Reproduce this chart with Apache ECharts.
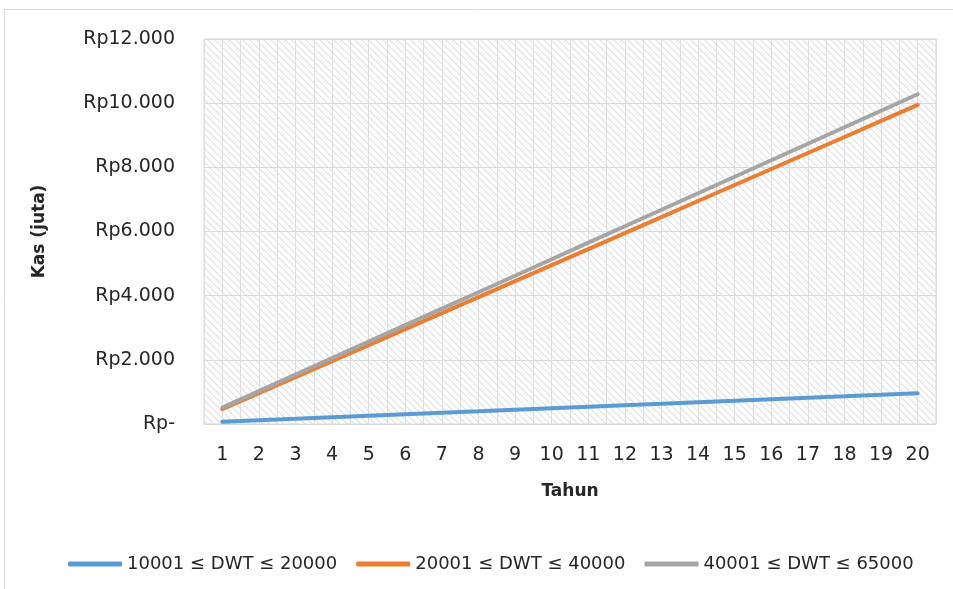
<!DOCTYPE html>
<html>
<head>
<meta charset="utf-8">
<title>Kas (juta) per Tahun</title>
<script src="https://cdn.jsdelivr.net/npm/echarts@6/dist/echarts.min.js"></script>
<style>
  html, body { margin: 0; padding: 0; background: #ffffff; }
  #chart { width: 953px; height: 589px; }
</style>
</head>
<body>
<div id="chart"></div>
<script>
// Years on the category axis
const years = ['1','2','3','4','5','6','7','8','9','10','11','12','13','14','15','16','17','18','19','20'];

// Cumulative cash (juta Rupiah) per ship size class
const seriesNames = ['10001 ≤ DWT ≤ 20000', '20001 ≤ DWT ≤ 40000', '40001 ≤ DWT ≤ 65000'];
const kasKecil  = [72, 119, 165, 212, 258, 305, 352, 398, 445, 491, 538, 585, 631, 678, 724, 771, 818, 864, 911, 957];
const kasSedang = [460, 959, 1458, 1958, 2457, 2956, 3455, 3954, 4454, 4953, 5452, 5951, 6450, 6950, 7449, 7948, 8447, 8946, 9446, 9945];
const kasBesar  = [510, 1024, 1538, 2052, 2566, 3080, 3594, 4108, 4622, 5136, 5651, 6165, 6679, 7193, 7707, 8221, 8735, 9249, 9763, 10277];

// Value-axis tick labels, one per 2.000 step
const yTickLabels = ['Rp-', 'Rp2.000', 'Rp4.000', 'Rp6.000', 'Rp8.000', 'Rp10.000', 'Rp12.000'];

const colors = ['#5B9BD5', '#ED7D31', '#A5A5A5'];
const font = 'DejaVu Sans, Noto Sans, sans-serif';

// Diagonal hatch tile for the plot background
function hatchTile() {
  const size = 7;
  const c = document.createElement('canvas');
  c.width = size; c.height = size;
  const ctx = c.getContext('2d');
  ctx.fillStyle = '#ffffff';
  ctx.fillRect(0, 0, size, size);
  ctx.strokeStyle = '#e0e0e0';
  ctx.lineWidth = 1.2;
  ctx.beginPath();
  ctx.moveTo(-1, -1); ctx.lineTo(size + 1, size + 1);
  ctx.moveTo(-1, size - 1); ctx.lineTo(1, size + 1);
  ctx.moveTo(size - 1, -1); ctx.lineTo(size + 1, 1);
  ctx.stroke();
  return c;
}

const chart = echarts.init(document.getElementById('chart'), null, { renderer: 'canvas' });

chart.setOption({
  animation: false,
  backgroundColor: '#ffffff',
  color: colors,
  graphic: [{
    type: 'rect',
    shape: { x: 4.5, y: 9.5, width: 1000, height: 700 },
    style: { fill: 'none', stroke: '#d9d9d9', lineWidth: 1 },
    silent: true,
    z: -10
  }],
  grid: {
    left: 204, right: 17, top: 39, bottom: 165,
    show: true,
    backgroundColor: { image: hatchTile(), repeat: 'repeat' },
    borderColor: '#d9d9d9',
    borderWidth: 1
  },
  legend: {
    bottom: 11,
    left: 63,
    icon: 'roundRect',
    itemWidth: 54,
    itemHeight: 5,
    itemGap: 19,
    textStyle: { fontFamily: font, fontSize: 18, color: '#262626' },
    data: seriesNames
  },
  xAxis: [{
    type: 'category',
    data: years,
    boundaryGap: true,
    name: 'Tahun',
    nameLocation: 'middle',
    nameGap: 59,
    nameTextStyle: { fontFamily: font, fontSize: 17, fontWeight: 'bold', color: '#262626' },
    axisLine: { show: true, lineStyle: { color: '#d9d9d9', width: 1 } },
    axisTick: { show: false },
    axisLabel: { fontFamily: font, fontSize: 19, color: '#262626', margin: 22, interval: 0 },
    splitLine: { show: false }
  }, {
    // Hidden helper axis that draws vertical grid lines every half year
    type: 'value',
    position: 'bottom',
    min: 0.5, max: 20.5, interval: 0.5,
    axisLine: { show: false },
    axisTick: { show: false },
    axisLabel: { show: false },
    splitLine: { show: true, lineStyle: { color: '#dedede', width: 1 } }
  }],
  yAxis: {
    type: 'value',
    min: 0, max: 12000, interval: 2000,
    name: 'Kas (juta)',
    nameLocation: 'middle',
    nameRotate: 90,
    nameGap: 156,
    nameTextStyle: { fontFamily: font, fontSize: 17, fontWeight: 'bold', color: '#262626' },
    axisLine: { show: false },
    axisTick: { show: false },
    axisLabel: {
      fontFamily: font, fontSize: 19, color: '#262626', margin: 29,
      formatter: v => yTickLabels[Math.round(v / 2000)]
    },
    splitLine: { show: true, lineStyle: { color: '#d9d9d9', width: 1 } }
  },
  series: [
    { name: seriesNames[0], type: 'line', data: kasKecil, xAxisIndex: 0, symbol: 'none',
      lineStyle: { width: 4, color: colors[0], cap: 'round' } },
    { name: seriesNames[1], type: 'line', data: kasSedang, xAxisIndex: 0, symbol: 'none',
      lineStyle: { width: 4, color: colors[1], cap: 'round' } },
    { name: seriesNames[2], type: 'line', data: kasBesar, xAxisIndex: 0, symbol: 'none',
      lineStyle: { width: 4, color: colors[2], cap: 'round' } }
  ]
});
</script>
</body>
</html>
